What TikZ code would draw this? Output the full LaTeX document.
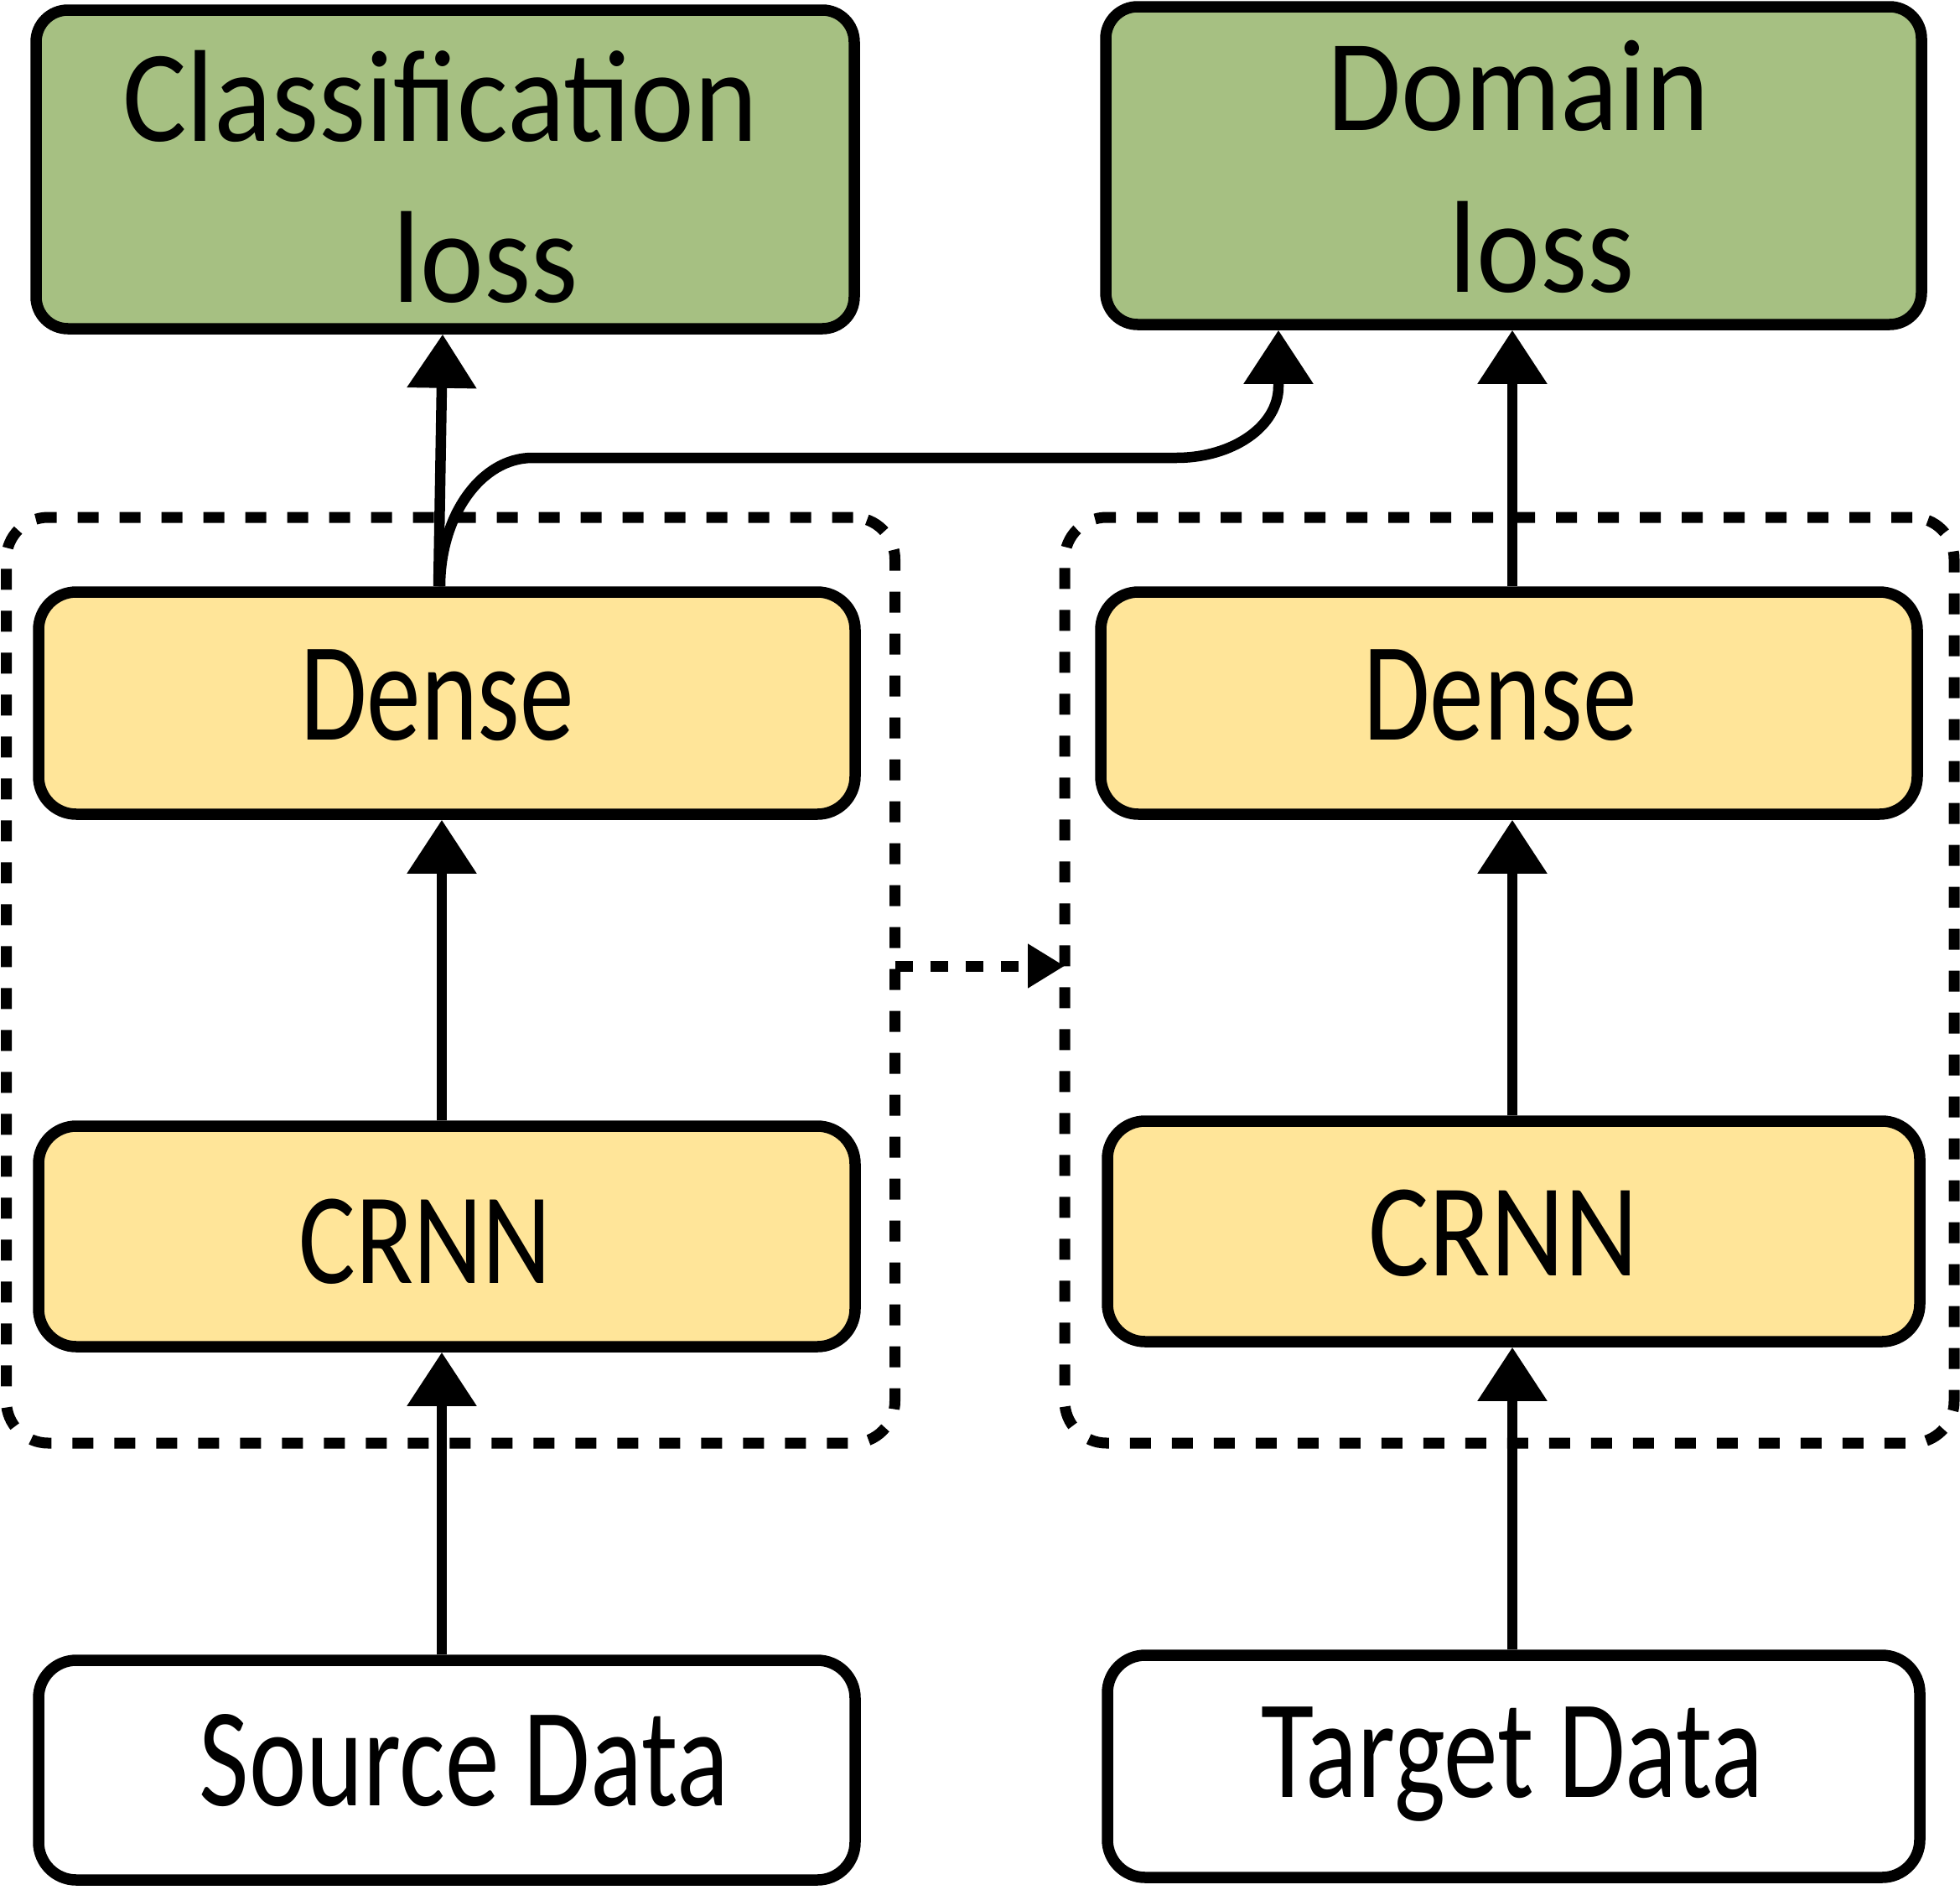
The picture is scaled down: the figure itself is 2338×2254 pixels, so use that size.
\documentclass[tikz,border=0pt]{standalone}
\usepackage{fontspec}
\setmainfont{Carlito}
\usepackage{graphicx}
\usetikzlibrary{arrows.meta}
\definecolor{lossgreen}{RGB}{166,192,130}
\definecolor{layeryellow}{RGB}{255,229,153}
\begin{document}
\begin{tikzpicture}[x=1pt,y=-1pt,
  box/.style={draw=black, line width=13.5pt, rounded corners=45pt, inner sep=0pt},
  greenbox/.style={box, fill=lossgreen, rounded corners=38pt},
  yellowbox/.style={box, fill=layeryellow},
  whitebox/.style={box, fill=white},
  groupbox/.style={draw=black, line width=13pt, dash pattern=on 25pt off 25pt, rounded corners=50pt, inner sep=0pt, outer sep=0pt},
  arr/.style={draw=black, line width=12.5pt, -{Triangle[length=64pt,width=80pt]}},
  darr/.style={draw=black, line width=13pt, dash pattern=on 21pt off 21pt, -{Triangle[length=44pt,width=50pt]}},
  txt/.style={anchor=base, inner sep=0pt, font=\fontsize{168}{200}\selectfont},
  gtxt/.style={anchor=base, inner sep=0pt, font=\fontsize{156}{192}\selectfont}
]
\useasboundingbox (0,0) rectangle (2338,2254);

% group boxes
\node[groupbox, minimum width=1060pt, minimum height=1104pt] (fl) at (537.5,1169) {};
\node[groupbox, minimum width=1061pt, minimum height=1104pt] (fr) at (1800.5,1169) {};

% loss boxes
\node[greenbox, minimum width=976pt, minimum height=380pt] (cl) at (531,202) {};
\node[greenbox, minimum width=973pt, minimum height=379pt] (dom) at (1805.5,197.5) {};

% layer boxes
\node[yellowbox, minimum width=974pt, minimum height=265pt] (dl) at (533,838.5) {};
\node[yellowbox, minimum width=974pt, minimum height=265pt] (dr) at (1800,838.5) {};
\node[yellowbox, minimum width=974pt, minimum height=263pt] (cnl) at (533,1474.5) {};
\node[yellowbox, minimum width=969pt, minimum height=263pt] (cnr) at (1805.5,1468.5) {};

% data boxes
\node[whitebox, minimum width=974pt, minimum height=262pt] (src) at (533,2111) {};
\node[whitebox, minimum width=969pt, minimum height=265pt] (tgt) at (1805.5,2106.5) {};

% texts
\node[gtxt] (cl-t1) at (525,168) {\scalebox{0.92}[1]{Classification}};
\node[gtxt] (cl-t2) at (579,360) {\scalebox{0.92}[1]{loss}};
\node[gtxt] (dom-t1) at (1811,155) {\scalebox{0.92}[1]{Domain}};
\node[gtxt] (dom-t2) at (1839,348) {\scalebox{0.92}[1]{loss}};
\node[txt] (dl-t) at (521.5,882) {\scalebox{0.77}[1]{Dense}};
\node[txt] (dr-t) at (1789.5,882) {\scalebox{0.77}[1]{Dense}};
\node[txt, font=\fontsize{155}{190}\selectfont] (cnl-t) at (507,1530) {\scalebox{0.82}[1]{CRNN}};
\node[txt, font=\fontsize{158}{190}\selectfont] (cnr-t) at (1793,1521) {\scalebox{0.86}[1]{CRNN}};
\node[txt] (src-t) at (553.5,2153) {\scalebox{0.77}[1]{Source Data}};
\node[txt] (tgt-t) at (1804,2143) {\scalebox{0.77}[1]{Target Data}};

% left column connectors
\draw[arr] ([xshift=-6pt]src.north) -- ([xshift=-6pt]cnl.south);
\draw[arr] ([xshift=-6pt]cnl.north) -- ([xshift=-6pt]dl.south);
\draw[arr] ([xshift=-10pt]dl.north) -- ([xshift=-3pt]cl.south);
\draw[arr] ([xshift=-8pt]dl.north) .. controls (525,615) and (574,546) .. (635,546)
  -- (1403,546) .. controls (1471,546) and (1525,508) .. (1525,461)
  -- ([xshift=-280.5pt]dom.south);

% right column connectors
\draw[arr] ([xshift=-1.5pt]tgt.north) -- ([xshift=-1.5pt]cnr.south);
\draw[arr] ([xshift=-1.5pt]cnr.north) -- ([xshift=4pt]dr.south);
\draw[arr] ([xshift=4pt]dr.north) -- ([xshift=-1.5pt]dom.south);

% dashed transfer arrow
\draw[darr] ([yshift=17pt]fl.east) -- ([yshift=17pt]fr.west);
\end{tikzpicture}
\end{document}
